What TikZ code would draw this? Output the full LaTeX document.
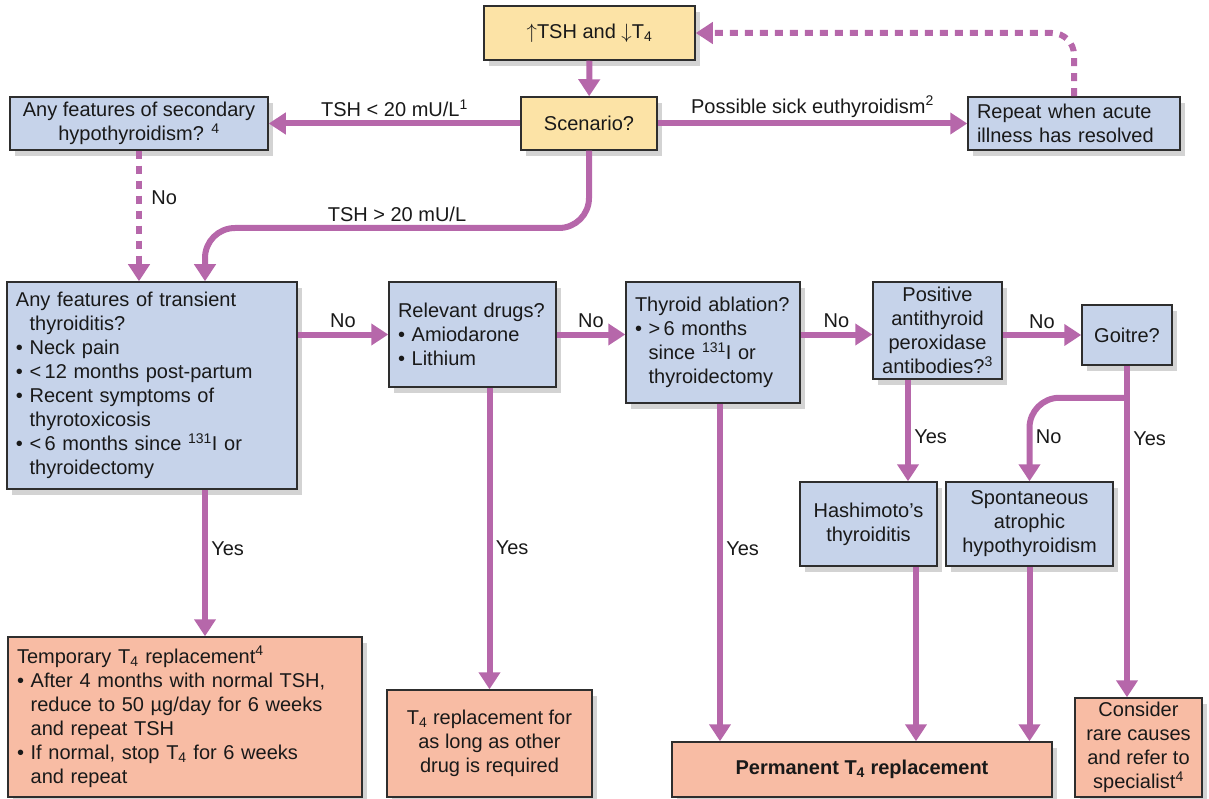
\documentclass[tikz,border=0pt]{standalone}
\usepackage{fontspec}
\setmainfont{Liberation Sans}
\usetikzlibrary{arrows.meta,shadows}

\definecolor{flowpink}{HTML}{B667AA}
\definecolor{boxyellow}{HTML}{FCE3A6}
\definecolor{boxblue}{HTML}{C6D3EA}
\definecolor{boxpeach}{HTML}{F8BCA4}
\definecolor{boxline}{HTML}{2E2E2E}

\newcommand{\bul}{\textbullet\ }
\newcommand{\bulpad}{\hphantom{\textbullet\ }}
\newcommand{\Tfour}{T\textsubscript{4}}

\tikzset{
  box/.style={draw=boxline, line width=1.5pt, inner xsep=9pt, inner ysep=1pt,
    font=\fontsize{20}{24}\selectfont, text=black!90,
    drop shadow={shadow xshift=5pt, shadow yshift=-6pt, fill=black!50, opacity=0.35}},
  yellowbox/.style={box, fill=boxyellow, align=center},
  bluebox/.style={box, fill=boxblue},
  peachbox/.style={box, fill=boxpeach},
  flow/.style={draw=flowpink, line width=6pt, -{Triangle[length=17pt,width=21pt]}},
  dotflow/.style={flow, dash pattern=on 8pt off 7pt},
  lbl/.style={font=\fontsize{20}{24}\selectfont, text=black!90}
}

\begin{document}
\begin{tikzpicture}[x=1pt, y=-1pt]
    \useasboundingbox (0,0) rectangle (1209,799);

    % top row
    \node[yellowbox, minimum width=211pt, minimum height=54pt] (top) at (589.5,33) {$\uparrow$TSH and $\downarrow$\Tfour};
    \node[yellowbox, minimum width=136pt, minimum height=53pt] (scen) at (589,123.5) {Scenario?};
    \node[bluebox, align=center, minimum width=258pt, minimum height=53pt] (sec) at (139,123.5)
        {Any features of secondary\\hypothyroidism? \textsuperscript{4}};
    \node[bluebox, align=left, text width=194pt, minimum height=53pt] (rep) at (1074,123.5)
        {Repeat when acute\\illness has resolved};

    % questions
    \node[bluebox, align=left, text width=272pt, minimum height=207pt] (trans) at (152,385.5)
        {Any features of transient\\
         \bulpad thyroiditis?\\
         \bul Neck pain\\
         \bul <\,12 months post-partum\\
         \bul Recent symptoms of\\
         \bulpad thyrotoxicosis\\
         \bul <\,6 months since \textsuperscript{131}I or\\
         \bulpad thyroidectomy};
    \node[bluebox, align=left, text width=149pt, minimum height=105pt] (drugs) at (472.5,334.5)
        {Relevant drugs?\\ \bul Amiodarone\\ \bul Lithium};
    \node[bluebox, align=left, text width=156pt, minimum height=121pt] (abl) at (713,342.5)
        {Thyroid ablation?\\ \bul >\,6 months\\ \bulpad since \textsuperscript{131}I or\\ \bulpad thyroidectomy};
    \node[bluebox, align=center, minimum width=129pt, minimum height=97pt] (anti) at (937.5,330.5)
        {Positive\\antithyroid\\peroxidase\\antibodies?\textsuperscript{3}};
    \node[bluebox, minimum width=90pt, minimum height=60pt] (goit) at (1127,335) {Goitre?};
    \node[bluebox, align=center, minimum width=137pt, minimum height=84pt] (hash) at (868.5,524)
        {Hashimoto's\\thyroiditis};
    \node[bluebox, align=center, minimum width=167pt, minimum height=84pt] (spont) at (1029.5,524)
        {Spontaneous\\atrophic\\hypothyroidism};

    % outcomes
    \node[peachbox, align=left, text width=336pt, minimum height=160pt] (temp) at (185,717)
        {Temporary \Tfour{} replacement\textsuperscript{4}\\
         \bul After 4 months with normal TSH,\\
         \bulpad reduce to 50 µg/day for 6 weeks\\
         \bulpad and repeat TSH\\
         \bul If normal, stop \Tfour{} for 6 weeks\\
         \bulpad and repeat};
    \node[peachbox, align=center, minimum width=205pt, minimum height=107pt] (drugrep) at (489.5,743.5)
        {\Tfour{} replacement for\\as long as other\\drug is required};
    \node[peachbox, minimum width=380pt, minimum height=55pt] (perm) at (862,769.5)
        {\textbf{Permanent \Tfour{} replacement}};
    \node[peachbox, align=center, minimum width=127pt, minimum height=99pt, inner ysep=0.5pt] (rare) at (1138.5,747.5)
        {Consider\\rare causes\\and refer to\\specialist\textsuperscript{4}};

    % scenario arrows
    \draw[flow] (top) -- (scen);
    \draw[flow] (scen) -- node[lbl, above] (lowlbl) {TSH < 20 mU/L\textsuperscript{1}} (sec);
    \draw[flow] (scen) -- node[lbl, above] (sicklbl) {Possible sick euthyroidism\textsuperscript{2}} (rep);
    \draw[dotflow, rounded corners=22pt] (rep.north) |- (top.east);
    \draw[dotflow] (sec) -- node[lbl, right, pos=0.36, xshift=6pt] (seclbl) {No} (sec |- trans.north);
    \coordinate (hibend) at (205,228);
    \draw[flow, rounded corners=30pt] (scen) |- node[lbl, above, pos=0.75] (hilbl) {TSH > 20 mU/L} (hibend)
        -- (hibend |- trans.north);

    % No chain
    \draw[flow] (trans.east |- drugs.west) -- node[lbl, above] (no1) {No} (drugs.west);
    \draw[flow] (drugs.east) -- node[lbl, above] (no2) {No} (drugs.east -| abl.west);
    \draw[flow] (abl.east |- drugs.east) -- node[lbl, above] (no3) {No} (anti.west |- drugs.east);
    \draw[flow] (anti.east |- goit.west) -- node[lbl, above] (no4) {No} (goit.west);

    % Yes arrows
    \draw[flow] (hibend |- trans.south) -- node[lbl, right, pos=0.4] (yes1) {Yes} (hibend |- temp.north);
    \draw[flow] (drugrep.north |- drugs.south) -- node[lbl, right, pos=0.53] (yes2) {Yes} (drugrep.north);
    \draw[flow] ([xshift=7pt]abl.south) -- node[lbl, right, pos=0.43] (yes3) {Yes} ([xshift=7pt]abl.south |- perm.north);
    \draw[flow] ([xshift=-29.5pt]anti.south) -- node[lbl, right, pos=0.56] (yes4) {Yes} ([xshift=-29.5pt]anti.south |- hash.north);
    \draw[flow] (goit.south) -- node[lbl, right, pos=0.22] (yes5) {Yes} (goit.south |- rare.north);
    \coordinate (split) at ([yshift=-32pt]goit.south);
    \draw[flow, rounded corners=30pt] (split) -| node[lbl, right, pos=0.735] (no5) {No} (spont.north);

    % into permanent
    \draw[flow] ([xshift=47.5pt]hash.south) -- ([xshift=47.5pt]hash.south |- perm.north);
    \draw[flow] (spont.south) -- (spont.south |- perm.north);
\end{tikzpicture}
\end{document}
